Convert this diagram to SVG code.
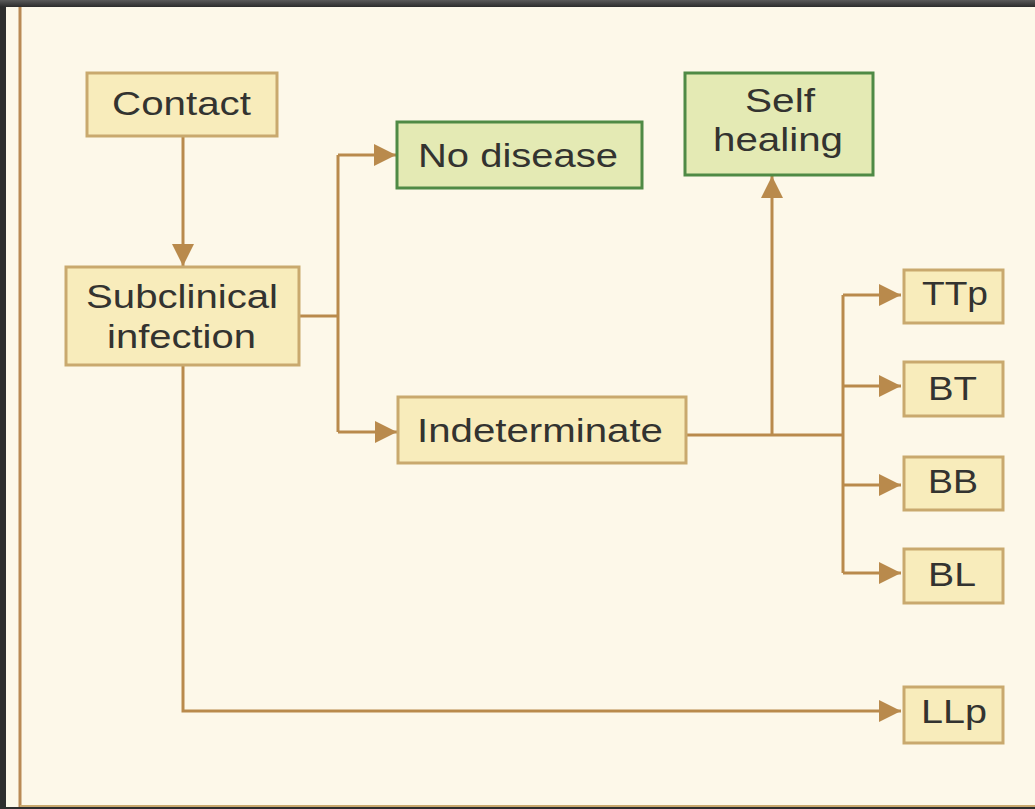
<svg xmlns="http://www.w3.org/2000/svg" width="1035" height="809" viewBox="0 0 1035 809">
<defs>
<linearGradient id="topg" x1="0" y1="0" x2="0" y2="1">
<stop offset="0" stop-color="#5a5a5a"/><stop offset="1" stop-color="#2c2c2c"/>
</linearGradient>
<marker id="ah" markerUnits="userSpaceOnUse" markerWidth="24" markerHeight="24" viewBox="0 0 24 24" refX="22" refY="12" orient="auto">
<path d="M0,1 L22,12 L0,23 Z" fill="#b98a4c"/>
</marker>
<style>
.bg{fill:#fdf8e9}
.box{fill:#f8ecbb;stroke:#c9a96e;stroke-width:3}
.gbox{fill:#e4eab4;stroke:#4f8a45;stroke-width:3}
.t{font-family:"Liberation Sans",Arial,sans-serif;font-size:33px;fill:#333330}
.c{fill:none;stroke:#b98a4c;stroke-width:3}
</style>
</defs>
<rect x="0" y="0" width="1035" height="809" fill="#2e2e2e"/>
<rect x="0" y="0" width="1035" height="7" fill="url(#topg)"/>
<rect class="bg" x="6" y="7" width="1029" height="800"/>
<line x1="20" y1="7" x2="20" y2="807" stroke="#b98a55" stroke-width="3"/>
<line x1="20" y1="806" x2="1035" y2="806" stroke="#c9a96e" stroke-width="2"/>

<g id="connectors">
<path class="c" d="M183,136 V266" marker-end="url(#ah)"/>
<path class="c" d="M299,316 H338"/>
<path class="c" d="M338,155 V432"/>
<path class="c" d="M338,155 H396" marker-end="url(#ah)"/>
<path class="c" d="M338,432 H397" marker-end="url(#ah)"/>
<path class="c" d="M686,435 H843"/>
<path class="c" d="M772,435 V176" marker-end="url(#ah)"/>
<path class="c" d="M843,295 V573"/>
<path class="c" d="M843,295 H901" marker-end="url(#ah)"/>
<path class="c" d="M843,386 H901" marker-end="url(#ah)"/>
<path class="c" d="M843,485 H901" marker-end="url(#ah)"/>
<path class="c" d="M843,573 H901" marker-end="url(#ah)"/>
<path class="c" d="M183,365 V711 H901" marker-end="url(#ah)"/>
</g>

<g id="contact">
<rect class="box" x="87" y="73" width="190" height="63"/>
<text class="t" x="112" y="115" textLength="139" lengthAdjust="spacingAndGlyphs">Contact</text>
</g>
<g id="subclinical">
<rect class="box" x="66" y="267" width="233" height="98"/>
<text class="t" x="86" y="308" textLength="192" lengthAdjust="spacingAndGlyphs">Subclinical</text>
<text class="t" x="107" y="348" textLength="149" lengthAdjust="spacingAndGlyphs">infection</text>
</g>
<g id="nodisease">
<rect class="gbox" x="397" y="122" width="245" height="66"/>
<text class="t" x="418" y="167" textLength="200" lengthAdjust="spacingAndGlyphs">No disease</text>
</g>
<g id="selfhealing">
<rect class="gbox" x="685" y="73" width="188" height="102"/>
<text class="t" x="745" y="112" textLength="70" lengthAdjust="spacingAndGlyphs">Self</text>
<text class="t" x="713" y="151" textLength="130" lengthAdjust="spacingAndGlyphs">healing</text>
</g>
<g id="indeterminate">
<rect class="box" x="398" y="397" width="288" height="66"/>
<text class="t" x="417" y="442" textLength="246" lengthAdjust="spacingAndGlyphs">Indeterminate</text>
</g>
<g id="ttp">
<rect class="box" x="904" y="270" width="99" height="53"/>
<text class="t" x="922" y="305" textLength="66" lengthAdjust="spacingAndGlyphs">TTp</text>
</g>
<g id="bt">
<rect class="box" x="904" y="362" width="99" height="54"/>
<text class="t" x="928" y="400" textLength="49" lengthAdjust="spacingAndGlyphs">BT</text>
</g>
<g id="bb">
<rect class="box" x="904" y="457" width="99" height="53"/>
<text class="t" x="928" y="493" textLength="50" lengthAdjust="spacingAndGlyphs">BB</text>
</g>
<g id="bl">
<rect class="box" x="904" y="549" width="99" height="54"/>
<text class="t" x="928" y="586" textLength="48" lengthAdjust="spacingAndGlyphs">BL</text>
</g>
<g id="llp">
<rect class="box" x="904" y="687" width="99" height="56"/>
<text class="t" x="921" y="723" textLength="66" lengthAdjust="spacingAndGlyphs">LLp</text>
</g>
</svg>
